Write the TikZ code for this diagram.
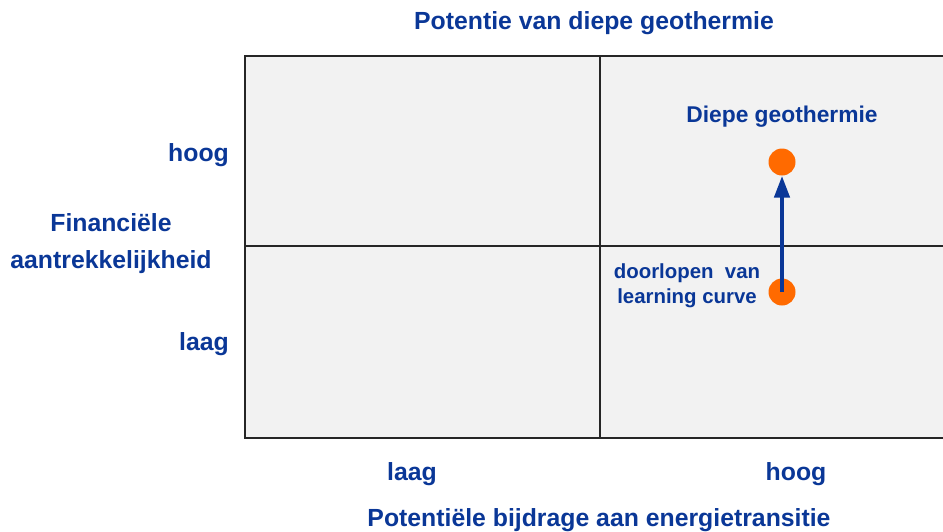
\documentclass[tikz,border=0pt]{standalone}
\usepackage{fontspec}
\setmainfont{Liberation Sans}
\usetikzlibrary{arrows.meta}
\definecolor{txtblue}{HTML}{0A3797}
\definecolor{dotorange}{HTML}{FF6A00}
\definecolor{cellgray}{HTML}{F2F2F2}
\begin{document}
\begin{tikzpicture}[x=1pt,y=-1pt,
  lbl/.style={text=txtblue,font=\fontsize{24.8}{29}\selectfont\bfseries,inner sep=0pt},
  small/.style={text=txtblue,font=\fontsize{20.4}{25}\selectfont\bfseries,inner sep=0pt,align=center},
  dot/.style={circle,fill=dotorange,minimum size=27pt,inner sep=0pt},
  cell/.style={fill=cellgray,draw=black!85,line width=1.5pt}]
\useasboundingbox (0,0) rectangle (943,531);
% grid
\path[cell] (245,56) rectangle (945,438);
\draw[black!85,line width=1.5pt] (600,56) -- (600,438);
\draw[black!85,line width=1.5pt] (245,246) -- (945,246);
% texts
\node[lbl] (title) at (594,23) {Potentie van diepe geothermie};
\node[lbl] (xtitle) at (599,520) {Potentiële bijdrage aan energietransitie};
\node[lbl] (xlow) at (412,474) {laag};
\node[lbl] (xhigh) at (796,474) {hoog};
\node[lbl,anchor=east] (yhigh) at (229,155) {hoog};
\node[lbl,anchor=east] (ylow) at (229,344) {laag};
\node[lbl,align=center] (ytitle) at (111,244) {Financiële\\[8pt]aantrekkelijkheid};
\node[lbl,font=\fontsize{22.8}{27}\selectfont\bfseries] (dg) at (782,117) {Diepe geothermie};
\node[small] (lc) at (687,286) {doorlopen\ \ van\\learning curve};
% dots and arrow
\node[dot] (top) at (782,162) {};
\node[dot] (bot) at (782,292) {};
\draw[txtblue,line width=4.5pt,-{Triangle[width=15pt,length=22pt]}] (bot.center) -- (top.south);
\end{tikzpicture}
\end{document}
